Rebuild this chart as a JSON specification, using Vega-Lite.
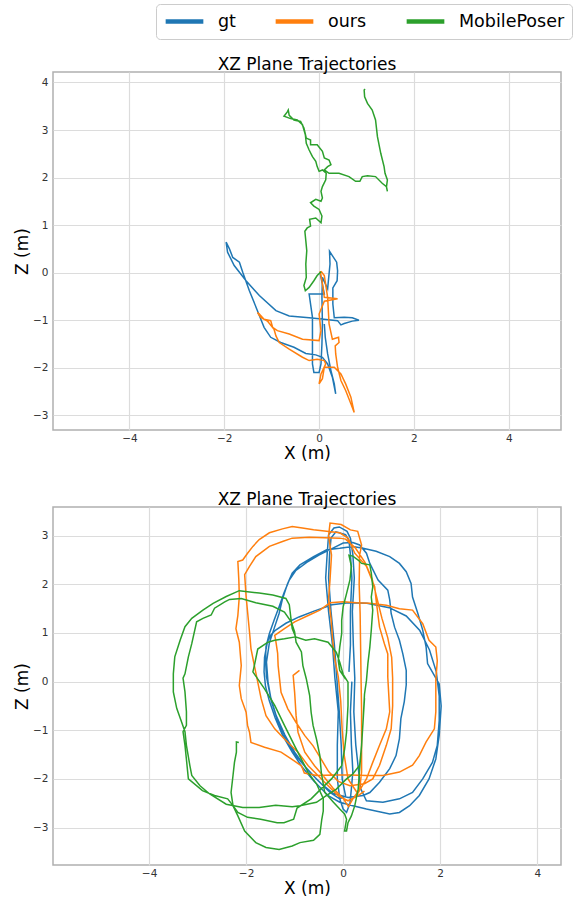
{
"$schema": "https://vega.github.io/schema/vega-lite/v6.json",
"padding": {"left": 12, "top": 3, "right": 2, "bottom": 2},
"datasets": {
"top": [
{"s":"gt","g":1,"x":0.02,"z":0.0},{"s":"gt","g":1,"x":0.11,"z":-0.45},{"s":"gt","g":1,"x":-0.21,"z":-0.45},{"s":"gt","g":1,"x":-0.14,"z":-0.94},{"s":"gt","g":1,"x":-0.14,"z":-1.43},{"s":"gt","g":1,"x":-0.14,"z":-1.92},{"s":"gt","g":1,"x":-0.11,"z":-2.1},{"s":"gt","g":1,"x":0,"z":-2.1},{"s":"gt","g":1,"x":0.04,"z":-1.92},{"s":"gt","g":1,"x":0.06,"z":-1.5},{"s":"gt","g":1,"x":0.07,"z":-1.08},{"s":"gt","g":1,"x":0.06,"z":-0.52},{"s":"gt","g":1,"x":0.07,"z":-0.1},{"s":"gt","g":1,"x":0.18,"z":-0.34},{"s":"gt","g":1,"x":0.23,"z":0.18},{"s":"gt","g":1,"x":0.22,"z":0.45},{"s":"gt","g":1,"x":0.29,"z":0.34},{"s":"gt","g":1,"x":0.37,"z":0.22},{"s":"gt","g":1,"x":0.39,"z":0.04},{"s":"gt","g":1,"x":0.38,"z":-0.17},{"s":"gt","g":1,"x":0.29,"z":-0.32},{"s":"gt","g":1,"x":0.29,"z":-0.66},{"s":"gt","g":1,"x":0.32,"z":-0.95},{"s":"gt","g":1,"x":0.53,"z":-0.94},{"s":"gt","g":1,"x":0.7,"z":-0.95},{"s":"gt","g":1,"x":0.84,"z":-1.0},{"s":"gt","g":1,"x":0.7,"z":-1.02},{"s":"gt","g":1,"x":0.53,"z":-1.07},{"s":"gt","g":1,"x":0.46,"z":-1.1},{"s":"gt","g":1,"x":0.39,"z":-1.01},{"s":"gt","g":1,"x":0,"z":-0.97},{"s":"gt","g":1,"x":-0.21,"z":-0.95},{"s":"gt","g":1,"x":-0.63,"z":-0.91},{"s":"gt","g":1,"x":-0.91,"z":-0.8},{"s":"gt","g":1,"x":-1.26,"z":-0.48},{"s":"gt","g":1,"x":-1.54,"z":-0.17},{"s":"gt","g":1,"x":-1.79,"z":0.15},{"s":"gt","g":1,"x":-1.93,"z":0.43},{"s":"gt","g":1,"x":-1.96,"z":0.64},{"s":"gt","g":1,"x":-1.89,"z":0.5},{"s":"gt","g":1,"x":-1.82,"z":0.32},{"s":"gt","g":1,"x":-1.68,"z":0.22},{"s":"gt","g":1,"x":-1.61,"z":0.01},{"s":"gt","g":1,"x":-1.47,"z":-0.38},{"s":"gt","g":1,"x":-1.3,"z":-0.8},{"s":"gt","g":1,"x":-1.16,"z":-1.15},{"s":"gt","g":1,"x":-1.02,"z":-1.36},{"s":"gt","g":1,"x":-0.81,"z":-1.47},{"s":"gt","g":1,"x":-0.53,"z":-1.57},{"s":"gt","g":1,"x":-0.28,"z":-1.7},{"s":"gt","g":1,"x":-0.07,"z":-1.73},{"s":"gt","g":1,"x":0.07,"z":-1.78},{"s":"gt","g":1,"x":0.18,"z":-1.92},{"s":"gt","g":1,"x":0.28,"z":-2.2},{"s":"gt","g":1,"x":0.35,"z":-2.55},{"s":"gt","g":1,"x":0.32,"z":-2.34},{"s":"gt","g":1,"x":0.25,"z":-2.06},{"s":"gt","g":1,"x":0.18,"z":-1.71},{"s":"gt","g":1,"x":0.13,"z":-1.36},{"s":"gt","g":1,"x":0.11,"z":-1.08},
{"s":"ours","g":1,"x":0.02,"z":0.03},{"s":"ours","g":1,"x":0.06,"z":-0.17},{"s":"ours","g":1,"x":0.11,"z":-0.52},{"s":"ours","g":1,"x":0.39,"z":-0.55},{"s":"ours","g":1,"x":0.11,"z":-0.6},{"s":"ours","g":1,"x":0,"z":-0.87},{"s":"ours","g":1,"x":0.04,"z":-1.22},{"s":"ours","g":1,"x":0,"z":-1.43},{"s":"ours","g":1,"x":-0.35,"z":-1.4},{"s":"ours","g":1,"x":-0.63,"z":-1.29},{"s":"ours","g":1,"x":-0.88,"z":-1.22},{"s":"ours","g":1,"x":-0.98,"z":-1.15},{"s":"ours","g":1,"x":-1.02,"z":-1.01},{"s":"ours","g":1,"x":-1.16,"z":-0.98},{"s":"ours","g":1,"x":-1.26,"z":-0.87},{"s":"ours","g":1,"x":-1.3,"z":-0.84},{"s":"ours","g":1,"x":-1.23,"z":-0.94},{"s":"ours","g":1,"x":-1.09,"z":-1.02},{"s":"ours","g":1,"x":-0.95,"z":-1.19},{"s":"ours","g":1,"x":-0.91,"z":-1.33},{"s":"ours","g":1,"x":-0.84,"z":-1.47},{"s":"ours","g":1,"x":-0.63,"z":-1.61},{"s":"ours","g":1,"x":-0.35,"z":-1.78},{"s":"ours","g":1,"x":-0.21,"z":-1.85},{"s":"ours","g":1,"x":-0.04,"z":-1.82},{"s":"ours","g":1,"x":0.11,"z":-1.85},{"s":"ours","g":1,"x":0.14,"z":-1.92},{"s":"ours","g":1,"x":0.04,"z":-2.13},{"s":"ours","g":1,"x":0,"z":-2.34},{"s":"ours","g":1,"x":0.07,"z":-2.23},{"s":"ours","g":1,"x":0.11,"z":-1.99},{"s":"ours","g":1,"x":0.32,"z":-1.99},{"s":"ours","g":1,"x":0.46,"z":-2.13},{"s":"ours","g":1,"x":0.56,"z":-2.34},{"s":"ours","g":1,"x":0.67,"z":-2.62},{"s":"ours","g":1,"x":0.74,"z":-2.94},{"s":"ours","g":1,"x":0.67,"z":-2.76},{"s":"ours","g":1,"x":0.56,"z":-2.48},{"s":"ours","g":1,"x":0.46,"z":-2.27},{"s":"ours","g":1,"x":0.39,"z":-1.99},{"s":"ours","g":1,"x":0.35,"z":-1.71},{"s":"ours","g":1,"x":0.34,"z":-1.54},{"s":"ours","g":1,"x":0.42,"z":-1.47},{"s":"ours","g":1,"x":0.41,"z":-1.36},{"s":"ours","g":1,"x":0.28,"z":-1.4},{"s":"ours","g":1,"x":0.21,"z":-1.08},{"s":"ours","g":1,"x":0.18,"z":-0.52},{"s":"ours","g":1,"x":0.11,"z":-0.06},{"s":"ours","g":1,"x":0.04,"z":0.03},
{"s":"MobilePoser","g":1,"x":0.04,"z":0.02},{"s":"MobilePoser","g":1,"x":-0.04,"z":-0.06},{"s":"MobilePoser","g":1,"x":-0.11,"z":-0.17},{"s":"MobilePoser","g":1,"x":-0.21,"z":-0.31},{"s":"MobilePoser","g":1,"x":-0.29,"z":-0.38},{"s":"MobilePoser","g":1,"x":-0.32,"z":-0.27},{"s":"MobilePoser","g":1,"x":-0.27,"z":-0.1},{"s":"MobilePoser","g":1,"x":-0.28,"z":0.18},{"s":"MobilePoser","g":1,"x":-0.26,"z":0.46},{"s":"MobilePoser","g":1,"x":-0.28,"z":0.67},{"s":"MobilePoser","g":1,"x":-0.3,"z":0.87},{"s":"MobilePoser","g":1,"x":-0.25,"z":0.94},{"s":"MobilePoser","g":1,"x":-0.18,"z":0.98},{"s":"MobilePoser","g":1,"x":-0.2,"z":1.12},{"s":"MobilePoser","g":1,"x":-0.07,"z":1.15},{"s":"MobilePoser","g":1,"x":0.04,"z":1.05},{"s":"MobilePoser","g":1,"x":0.06,"z":1.19},{"s":"MobilePoser","g":1,"x":0,"z":1.33},{"s":"MobilePoser","g":1,"x":-0.11,"z":1.4},{"s":"MobilePoser","g":1,"x":-0.18,"z":1.47},{"s":"MobilePoser","g":1,"x":-0.07,"z":1.54},{"s":"MobilePoser","g":1,"x":0.04,"z":1.5},{"s":"MobilePoser","g":1,"x":0.07,"z":1.57},{"s":"MobilePoser","g":1,"x":0.04,"z":1.71},{"s":"MobilePoser","g":1,"x":0.07,"z":1.81},{"s":"MobilePoser","g":1,"x":0.14,"z":1.95},{"s":"MobilePoser","g":1,"x":0.15,"z":2.09},{"s":"MobilePoser","g":1,"x":0.07,"z":2.16},{"s":"MobilePoser","g":1,"x":0,"z":2.13},{"s":"MobilePoser","g":1,"x":-0.04,"z":2.23},{"s":"MobilePoser","g":1,"x":-0.07,"z":2.34},{"s":"MobilePoser","g":1,"x":-0.14,"z":2.44},{"s":"MobilePoser","g":1,"x":-0.21,"z":2.58},{"s":"MobilePoser","g":1,"x":-0.27,"z":2.72},{"s":"MobilePoser","g":1,"x":-0.29,"z":2.9},{"s":"MobilePoser","g":1,"x":-0.35,"z":3.11},{"s":"MobilePoser","g":1,"x":-0.46,"z":3.21},{"s":"MobilePoser","g":1,"x":-0.6,"z":3.24},{"s":"MobilePoser","g":1,"x":-0.74,"z":3.29},{"s":"MobilePoser","g":1,"x":-0.67,"z":3.38},{"s":"MobilePoser","g":1,"x":-0.65,"z":3.42},{"s":"MobilePoser","g":1,"x":-0.63,"z":3.31},{"s":"MobilePoser","g":1,"x":-0.53,"z":3.21},{"s":"MobilePoser","g":1,"x":-0.39,"z":3.18},{"s":"MobilePoser","g":1,"x":-0.32,"z":3.04},{"s":"MobilePoser","g":1,"x":-0.27,"z":2.83},{"s":"MobilePoser","g":1,"x":-0.18,"z":2.79},{"s":"MobilePoser","g":1,"x":-0.18,"z":2.69},{"s":"MobilePoser","g":1,"x":-0.04,"z":2.69},{"s":"MobilePoser","g":1,"x":0.07,"z":2.55},{"s":"MobilePoser","g":1,"x":0.11,"z":2.41},{"s":"MobilePoser","g":1,"x":0.21,"z":2.37},{"s":"MobilePoser","g":1,"x":0.25,"z":2.27},{"s":"MobilePoser","g":1,"x":0.18,"z":2.23},{"s":"MobilePoser","g":1,"x":0.11,"z":2.16},{"s":"MobilePoser","g":1,"x":0.21,"z":2.09},{"s":"MobilePoser","g":1,"x":0.42,"z":2.09},{"s":"MobilePoser","g":1,"x":0.63,"z":2.02},{"s":"MobilePoser","g":1,"x":0.77,"z":1.92},{"s":"MobilePoser","g":1,"x":0.86,"z":1.92},{"s":"MobilePoser","g":1,"x":0.91,"z":2.02},{"s":"MobilePoser","g":1,"x":1.02,"z":2.04},{"s":"MobilePoser","g":1,"x":1.19,"z":2.02},{"s":"MobilePoser","g":1,"x":1.33,"z":1.88},{"s":"MobilePoser","g":1,"x":1.42,"z":1.81},{"s":"MobilePoser","g":1,"x":1.44,"z":1.71},{"s":"MobilePoser","g":1,"x":1.42,"z":1.8},{"s":"MobilePoser","g":1,"x":1.44,"z":1.95},{"s":"MobilePoser","g":1,"x":1.39,"z":2.09},{"s":"MobilePoser","g":1,"x":1.37,"z":2.23},{"s":"MobilePoser","g":1,"x":1.3,"z":2.51},{"s":"MobilePoser","g":1,"x":1.23,"z":2.86},{"s":"MobilePoser","g":1,"x":1.19,"z":3.21},{"s":"MobilePoser","g":1,"x":1.12,"z":3.42},{"s":"MobilePoser","g":1,"x":1.02,"z":3.56},{"s":"MobilePoser","g":1,"x":0.96,"z":3.7},{"s":"MobilePoser","g":1,"x":0.95,"z":3.84},{"s":"MobilePoser","g":1,"x":0.97,"z":3.86}
],
"bottom": [
{"s":"gt","g":1,"x":0.18,"z":0.0},{"s":"gt","g":1,"x":0.15,"z":-0.62},{"s":"gt","g":1,"x":0.17,"z":-1.3},{"s":"gt","g":1,"x":0.2,"z":-1.85},{"s":"gt","g":1,"x":0.17,"z":-2.2},{"s":"gt","g":1,"x":0.14,"z":-2.5},{"s":"gt","g":1,"x":0.07,"z":-2.69},{"s":"gt","g":1,"x":0.0,"z":-2.62},{"s":"gt","g":1,"x":-0.07,"z":-2.41},{"s":"gt","g":1,"x":-0.12,"z":-2.0},{"s":"gt","g":1,"x":-0.12,"z":-1.3},{"s":"gt","g":1,"x":-0.1,"z":-0.62},{"s":"gt","g":1,"x":-0.17,"z":0.07},{"s":"gt","g":1,"x":-0.22,"z":0.75},{"s":"gt","g":1,"x":-0.3,"z":1.44},{"s":"gt","g":1,"x":-0.36,"z":2.13},{"s":"gt","g":1,"x":-0.33,"z":2.61},{"s":"gt","g":1,"x":-0.3,"z":3.02},{"s":"gt","g":1,"x":-0.19,"z":3.16},{"s":"gt","g":1,"x":-0.08,"z":3.18},{"s":"gt","g":1,"x":0.08,"z":3.09},{"s":"gt","g":1,"x":0.15,"z":2.95},{"s":"gt","g":1,"x":0.2,"z":2.61},{"s":"gt","g":1,"x":0.23,"z":2.13},{"s":"gt","g":1,"x":0.19,"z":1.44},{"s":"gt","g":1,"x":0.21,"z":0.75},{"s":"gt","g":1,"x":0.24,"z":0.07},{"s":"gt","g":1,"x":0.22,"z":-0.62},{"s":"gt","g":1,"x":0.26,"z":-1.3},{"s":"gt","g":1,"x":0.32,"z":-1.85},{"s":"gt","g":1,"x":0.36,"z":-2.2},{"s":"gt","g":1,"x":0.48,"z":-2.45},{"s":"gt","g":1,"x":0.82,"z":-2.48},{"s":"gt","g":1,"x":1.16,"z":-2.41},{"s":"gt","g":1,"x":1.43,"z":-2.28},{"s":"gt","g":1,"x":1.64,"z":-2.0},{"s":"gt","g":1,"x":1.84,"z":-1.66},{"s":"gt","g":1,"x":1.94,"z":-1.31},{"s":"gt","g":1,"x":1.98,"z":-0.8},{"s":"gt","g":1,"x":1.98,"z":-0.3},{"s":"gt","g":1,"x":1.92,"z":0.2},{"s":"gt","g":1,"x":1.78,"z":0.65},{"s":"gt","g":1,"x":1.58,"z":1.05},{"s":"gt","g":1,"x":1.3,"z":1.35},{"s":"gt","g":1,"x":0.95,"z":1.52},{"s":"gt","g":1,"x":0.49,"z":1.61},{"s":"gt","g":1,"x":0.11,"z":1.62},{"s":"gt","g":1,"x":-0.23,"z":1.58},{"s":"gt","g":1,"x":-0.6,"z":1.45},{"s":"gt","g":1,"x":-0.91,"z":1.33},{"s":"gt","g":1,"x":-1.18,"z":1.2},{"s":"gt","g":1,"x":-1.39,"z":1.06},{"s":"gt","g":1,"x":-1.49,"z":0.96},{"s":"gt","g":1,"x":-1.56,"z":0.82},{"s":"gt","g":1,"x":-1.62,"z":0.5},{"s":"gt","g":1,"x":-1.63,"z":0.2},{"s":"gt","g":1,"x":-1.6,"z":-0.1},{"s":"gt","g":1,"x":-1.52,"z":-0.4},{"s":"gt","g":1,"x":-1.4,"z":-0.75},{"s":"gt","g":1,"x":-1.25,"z":-1.1},{"s":"gt","g":1,"x":-1.05,"z":-1.45},{"s":"gt","g":1,"x":-0.85,"z":-1.75},{"s":"gt","g":1,"x":-0.6,"z":-2.05},{"s":"gt","g":1,"x":-0.3,"z":-2.35},{"s":"gt","g":1,"x":-0.07,"z":-2.48},{"s":"gt","g":1,"x":0.2,"z":-2.55},{"s":"gt","g":1,"x":0.48,"z":-2.62},{"s":"gt","g":1,"x":0.96,"z":-2.72},{"s":"gt","g":1,"x":1.16,"z":-2.69},{"s":"gt","g":1,"x":1.37,"z":-2.55},{"s":"gt","g":1,"x":1.57,"z":-2.34},{"s":"gt","g":1,"x":1.77,"z":-2.0},{"s":"gt","g":1,"x":1.91,"z":-1.59},{"s":"gt","g":1,"x":1.98,"z":-1.1},{"s":"gt","g":1,"x":2.02,"z":-0.5},{"s":"gt","g":1,"x":1.98,"z":-0.05},{"s":"gt","g":1,"x":1.74,"z":0.37},{"s":"gt","g":1,"x":1.71,"z":0.71},{"s":"gt","g":1,"x":1.64,"z":1.06},{"s":"gt","g":1,"x":1.54,"z":1.4},{"s":"gt","g":1,"x":1.43,"z":1.74},{"s":"gt","g":1,"x":1.4,"z":2.02},{"s":"gt","g":1,"x":1.3,"z":2.26},{"s":"gt","g":1,"x":1.16,"z":2.43},{"s":"gt","g":1,"x":0.96,"z":2.57},{"s":"gt","g":1,"x":0.68,"z":2.68},{"s":"gt","g":1,"x":0.41,"z":2.74},{"s":"gt","g":1,"x":0.2,"z":2.78},{"s":"gt","g":1,"x":-0.07,"z":2.74},{"s":"gt","g":1,"x":-0.34,"z":2.71},{"s":"gt","g":1,"x":-0.61,"z":2.57},{"s":"gt","g":1,"x":-0.89,"z":2.4},{"s":"gt","g":1,"x":-1.05,"z":2.23},{"s":"gt","g":1,"x":-1.15,"z":2.0},{"s":"gt","g":1,"x":-1.25,"z":1.7},{"s":"gt","g":1,"x":-1.32,"z":1.4},{"s":"gt","g":1,"x":-1.42,"z":1.1},{"s":"gt","g":1,"x":-1.52,"z":0.8},{"s":"gt","g":1,"x":-1.58,"z":0.4},{"s":"gt","g":1,"x":-1.55,"z":0.0},{"s":"gt","g":1,"x":-1.48,"z":-0.4},{"s":"gt","g":1,"x":-1.35,"z":-0.8},{"s":"gt","g":1,"x":-1.17,"z":-1.2},{"s":"gt","g":1,"x":-0.95,"z":-1.55},{"s":"gt","g":1,"x":-0.7,"z":-1.85},{"s":"gt","g":1,"x":-0.45,"z":-2.1},{"s":"gt","g":1,"x":-0.2,"z":-2.3},{"s":"gt","g":1,"x":0.1,"z":-2.38},{"s":"gt","g":1,"x":0.41,"z":-2.34},{"s":"gt","g":1,"x":0.55,"z":-2.28},{"s":"gt","g":1,"x":0.75,"z":-2.07},{"s":"gt","g":1,"x":0.96,"z":-1.79},{"s":"gt","g":1,"x":1.09,"z":-1.52},{"s":"gt","g":1,"x":1.16,"z":-1.17},{"s":"gt","g":1,"x":1.19,"z":-0.76},{"s":"gt","g":1,"x":1.26,"z":-0.41},{"s":"gt","g":1,"x":1.3,"z":-0.07},{"s":"gt","g":1,"x":1.3,"z":0.23},{"s":"gt","g":1,"x":1.23,"z":0.57},{"s":"gt","g":1,"x":1.16,"z":0.85},{"s":"gt","g":1,"x":1.06,"z":1.12},{"s":"gt","g":1,"x":0.99,"z":1.4},{"s":"gt","g":1,"x":0.96,"z":1.68},{"s":"gt","g":1,"x":0.92,"z":1.88},{"s":"gt","g":1,"x":0.72,"z":2.09},{"s":"gt","g":1,"x":0.55,"z":2.43},{"s":"gt","g":1,"x":0.48,"z":2.64},{"s":"gt","g":1,"x":0.34,"z":2.81},{"s":"gt","g":1,"x":0.2,"z":2.86},{"s":"gt","g":1,"x":0.0,"z":2.85},{"s":"gt","g":1,"x":-0.2,"z":2.75},{"s":"gt","g":1,"x":-0.5,"z":2.6},{"s":"gt","g":1,"x":-0.75,"z":2.45},{"s":"gt","g":1,"x":-0.98,"z":2.28},{"s":"gt","g":1,"x":-1.11,"z":2.09},{"s":"gt","g":1,"x":-1.22,"z":1.82},{"s":"gt","g":1,"x":-1.32,"z":1.54},{"s":"gt","g":1,"x":-1.42,"z":1.27},{"s":"gt","g":1,"x":-1.52,"z":0.99},{"s":"gt","g":1,"x":-1.59,"z":0.72},{"s":"gt","g":1,"x":-1.6,"z":0.44},{"s":"gt","g":1,"x":-1.58,"z":0.1},{"s":"gt","g":1,"x":-1.5,"z":-0.3},{"s":"gt","g":1,"x":-1.38,"z":-0.7},{"s":"gt","g":1,"x":-1.2,"z":-1.1},{"s":"gt","g":1,"x":-1.0,"z":-1.45},{"s":"gt","g":1,"x":-0.78,"z":-1.75},{"s":"gt","g":1,"x":-0.55,"z":-2.0},{"s":"gt","g":1,"x":-0.27,"z":-2.28},{"s":"gt","g":1,"x":-0.07,"z":-2.41},{"s":"gt","g":1,"x":0.05,"z":-2.35},{"s":"gt","g":1,"x":-0.02,"z":-2.0},{"s":"gt","g":1,"x":-0.04,"z":-1.3},{"s":"gt","g":1,"x":-0.08,"z":-0.62},{"s":"gt","g":1,"x":-0.13,"z":0.07},{"s":"gt","g":1,"x":-0.18,"z":0.75},{"s":"gt","g":1,"x":-0.25,"z":1.44},{"s":"gt","g":1,"x":-0.3,"z":2.13},{"s":"gt","g":1,"x":-0.28,"z":2.61},{"s":"gt","g":1,"x":-0.25,"z":2.95},{"s":"gt","g":1,"x":-0.15,"z":3.08},{"s":"gt","g":1,"x":0.05,"z":3.02},{"s":"gt","g":1,"x":0.12,"z":2.9},{"s":"gt","g":1,"x":0.15,"z":2.61},{"s":"gt","g":1,"x":0.18,"z":2.13},{"s":"gt","g":1,"x":0.15,"z":1.44},{"s":"gt","g":1,"x":0.15,"z":0.75},{"s":"gt","g":1,"x":0.12,"z":0.2},
{"s":"ours","g":1,"x":-0.9,"z":0.23},{"s":"ours","g":1,"x":-1.03,"z":0.13},{"s":"ours","g":1,"x":-1.0,"z":-0.22},{"s":"ours","g":1,"x":-0.97,"z":-0.7},{"s":"ours","g":1,"x":-0.93,"z":-1.04},{"s":"ours","g":1,"x":-0.79,"z":-1.45},{"s":"ours","g":1,"x":-0.59,"z":-1.73},{"s":"ours","g":1,"x":-0.4,"z":-1.95},{"s":"ours","g":1,"x":-0.2,"z":-2.2},{"s":"ours","g":1,"x":0.0,"z":-2.4},{"s":"ours","g":1,"x":0.11,"z":-2.57},{"s":"ours","g":1,"x":0.2,"z":-2.41},{"s":"ours","g":1,"x":0.34,"z":-2.21},{"s":"ours","g":1,"x":0.38,"z":-1.86},{"s":"ours","g":1,"x":0.38,"z":-1.31},{"s":"ours","g":1,"x":0.38,"z":-0.62},{"s":"ours","g":1,"x":0.37,"z":0.0},{"s":"ours","g":1,"x":0.36,"z":0.7},{"s":"ours","g":1,"x":0.35,"z":1.4},{"s":"ours","g":1,"x":0.33,"z":2.0},{"s":"ours","g":1,"x":0.34,"z":2.6},{"s":"ours","g":1,"x":0.38,"z":2.81},{"s":"ours","g":1,"x":0.3,"z":3.09},{"s":"ours","g":1,"x":0.15,"z":3.12},{"s":"ours","g":1,"x":-0.04,"z":3.23},{"s":"ours","g":1,"x":-0.27,"z":3.26},{"s":"ours","g":1,"x":-0.3,"z":3.0},{"s":"ours","g":1,"x":-0.24,"z":2.6},{"s":"ours","g":1,"x":-0.27,"z":2.1},{"s":"ours","g":1,"x":-0.3,"z":1.7},{"s":"ours","g":1,"x":-0.25,"z":1.3},{"s":"ours","g":1,"x":-0.22,"z":0.9},{"s":"ours","g":1,"x":-0.18,"z":0.5},{"s":"ours","g":1,"x":-0.1,"z":0.1},{"s":"ours","g":1,"x":-0.05,"z":-0.4},{"s":"ours","g":1,"x":-0.02,"z":-1.0},{"s":"ours","g":1,"x":0.02,"z":-1.5},{"s":"ours","g":1,"x":0.1,"z":-2.0},{"s":"ours","g":1,"x":0.3,"z":-2.3},{"s":"ours","g":1,"x":0.48,"z":-2.0},{"s":"ours","g":1,"x":0.61,"z":-1.66},{"s":"ours","g":1,"x":0.75,"z":-1.31},{"s":"ours","g":1,"x":0.89,"z":-0.97},{"s":"ours","g":1,"x":0.96,"z":-0.62},{"s":"ours","g":1,"x":0.92,"z":0.09},{"s":"ours","g":1,"x":0.92,"z":0.57},{"s":"ours","g":1,"x":0.85,"z":0.78},{"s":"ours","g":1,"x":0.75,"z":1.12},{"s":"ours","g":1,"x":0.68,"z":1.67},{"s":"ours","g":1,"x":0.65,"z":1.95},{"s":"ours","g":1,"x":0.48,"z":2.37},{"s":"ours","g":1,"x":0.24,"z":2.64},{"s":"ours","g":1,"x":0.1,"z":2.95},{"s":"ours","g":1,"x":-0.07,"z":3.06},{"s":"ours","g":1,"x":-0.34,"z":3.09},{"s":"ours","g":1,"x":-0.61,"z":3.12},{"s":"ours","g":1,"x":-0.84,"z":3.16},{"s":"ours","g":1,"x":-1.05,"z":3.19},{"s":"ours","g":1,"x":-1.25,"z":3.14},{"s":"ours","g":1,"x":-1.52,"z":3.06},{"s":"ours","g":1,"x":-1.73,"z":2.92},{"s":"ours","g":1,"x":-1.86,"z":2.78},{"s":"ours","g":1,"x":-1.97,"z":2.64},{"s":"ours","g":1,"x":-2.07,"z":2.5},{"s":"ours","g":1,"x":-2.17,"z":2.47},{"s":"ours","g":1,"x":-2.15,"z":2.09},{"s":"ours","g":1,"x":-2.14,"z":1.75},{"s":"ours","g":1,"x":-2.17,"z":1.36},{"s":"ours","g":1,"x":-2.21,"z":1.09},{"s":"ours","g":1,"x":-2.14,"z":0.81},{"s":"ours","g":1,"x":-2.1,"z":0.33},{"s":"ours","g":1,"x":-2.14,"z":-0.08},{"s":"ours","g":1,"x":-2.1,"z":-0.35},{"s":"ours","g":1,"x":-2.0,"z":-0.63},{"s":"ours","g":1,"x":-1.97,"z":-0.9},{"s":"ours","g":1,"x":-1.93,"z":-1.04},{"s":"ours","g":1,"x":-1.9,"z":-1.25},{"s":"ours","g":1,"x":-1.62,"z":-1.35},{"s":"ours","g":1,"x":-1.28,"z":-1.45},{"s":"ours","g":1,"x":-1.07,"z":-1.59},{"s":"ours","g":1,"x":-0.86,"z":-1.73},{"s":"ours","g":1,"x":-0.8,"z":-1.88},{"s":"ours","g":1,"x":-0.55,"z":-1.93},{"s":"ours","g":1,"x":-0.2,"z":-1.92},{"s":"ours","g":1,"x":0.14,"z":-1.92},{"s":"ours","g":1,"x":0.48,"z":-1.93},{"s":"ours","g":1,"x":0.82,"z":-1.93},{"s":"ours","g":1,"x":1.16,"z":-1.86},{"s":"ours","g":1,"x":1.43,"z":-1.72},{"s":"ours","g":1,"x":1.57,"z":-1.52},{"s":"ours","g":1,"x":1.71,"z":-1.24},{"s":"ours","g":1,"x":1.88,"z":-0.97},{"s":"ours","g":1,"x":1.91,"z":-0.62},{"s":"ours","g":1,"x":1.91,"z":0.02},{"s":"ours","g":1,"x":1.94,"z":0.43},{"s":"ours","g":1,"x":1.91,"z":0.71},{"s":"ours","g":1,"x":1.77,"z":0.85},{"s":"ours","g":1,"x":1.64,"z":1.19},{"s":"ours","g":1,"x":1.43,"z":1.47},{"s":"ours","g":1,"x":1.16,"z":1.5},{"s":"ours","g":1,"x":0.89,"z":1.57},{"s":"ours","g":1,"x":0.55,"z":1.61},{"s":"ours","g":1,"x":0.27,"z":1.62},{"s":"ours","g":1,"x":0,"z":1.64},{"s":"ours","g":1,"x":-0.27,"z":1.62},{"s":"ours","g":1,"x":-0.48,"z":1.47},{"s":"ours","g":1,"x":-0.72,"z":1.36},{"s":"ours","g":1,"x":-1.0,"z":1.23},{"s":"ours","g":1,"x":-1.21,"z":1.09},{"s":"ours","g":1,"x":-1.41,"z":0.95},{"s":"ours","g":1,"x":-1.39,"z":0.85},{"s":"ours","g":1,"x":-1.35,"z":0.58},{"s":"ours","g":1,"x":-1.34,"z":0.33},{"s":"ours","g":1,"x":-1.28,"z":-0.22},{"s":"ours","g":1,"x":-1.14,"z":-0.56},{"s":"ours","g":1,"x":-0.97,"z":-0.84},{"s":"ours","g":1,"x":-0.79,"z":-1.11},{"s":"ours","g":1,"x":-0.62,"z":-1.32},{"s":"ours","g":1,"x":-0.45,"z":-1.6},{"s":"ours","g":1,"x":-0.3,"z":-1.85},{"s":"ours","g":1,"x":-0.1,"z":-2.05},{"s":"ours","g":1,"x":0.14,"z":-2.14},{"s":"ours","g":1,"x":0.44,"z":-2.1},{"s":"ours","g":1,"x":0.61,"z":-2.0},{"s":"ours","g":1,"x":0.75,"z":-1.72},{"s":"ours","g":1,"x":0.89,"z":-1.31},{"s":"ours","g":1,"x":0.99,"z":-0.97},{"s":"ours","g":1,"x":1.02,"z":-0.5},{"s":"ours","g":1,"x":1.02,"z":0.07},{"s":"ours","g":1,"x":1.0,"z":0.5},{"s":"ours","g":1,"x":0.92,"z":0.9},{"s":"ours","g":1,"x":0.8,"z":1.3},{"s":"ours","g":1,"x":0.7,"z":1.7},{"s":"ours","g":1,"x":0.6,"z":2.1},{"s":"ours","g":1,"x":0.45,"z":2.45},{"s":"ours","g":1,"x":0.25,"z":2.75},{"s":"ours","g":1,"x":0.05,"z":2.93},{"s":"ours","g":1,"x":-0.07,"z":2.95},{"s":"ours","g":1,"x":-0.7,"z":2.97},{"s":"ours","g":1,"x":-1.05,"z":2.95},{"s":"ours","g":1,"x":-1.25,"z":2.88},{"s":"ours","g":1,"x":-1.52,"z":2.78},{"s":"ours","g":1,"x":-1.8,"z":2.57},{"s":"ours","g":1,"x":-1.93,"z":2.37},{"s":"ours","g":1,"x":-2.03,"z":2.2},{"s":"ours","g":1,"x":-2.0,"z":1.75},{"s":"ours","g":1,"x":-1.93,"z":1.02},{"s":"ours","g":1,"x":-1.9,"z":0.68},{"s":"ours","g":1,"x":-1.83,"z":0.33},{"s":"ours","g":1,"x":-1.76,"z":-0.01},{"s":"ours","g":1,"x":-1.69,"z":-0.35},{"s":"ours","g":1,"x":-1.59,"z":-0.7},{"s":"ours","g":1,"x":-1.41,"z":-0.97},{"s":"ours","g":1,"x":-1.21,"z":-1.18},{"s":"ours","g":1,"x":-0.93,"z":-1.45},{"s":"ours","g":1,"x":-0.72,"z":-1.73},{"s":"ours","g":1,"x":-0.52,"z":-1.93},{"s":"ours","g":1,"x":-0.31,"z":-2.14},{"s":"ours","g":1,"x":-0.1,"z":-2.35},{"s":"ours","g":1,"x":0.1,"z":-2.45},{"s":"ours","g":1,"x":0.3,"z":-2.35},{"s":"ours","g":1,"x":0.44,"z":-2.25},
{"s":"MobilePoser","g":1,"x":0.05,"z":0.05},{"s":"MobilePoser","g":1,"x":-0.07,"z":0.23},{"s":"MobilePoser","g":1,"x":-0.1,"z":0.43},{"s":"MobilePoser","g":1,"x":-0.07,"z":0.71},{"s":"MobilePoser","g":1,"x":-0.03,"z":0.99},{"s":"MobilePoser","g":1,"x":-0.03,"z":1.26},{"s":"MobilePoser","g":1,"x":0,"z":1.54},{"s":"MobilePoser","g":1,"x":0.07,"z":1.81},{"s":"MobilePoser","g":1,"x":0.14,"z":2.09},{"s":"MobilePoser","g":1,"x":0.17,"z":2.37},{"s":"MobilePoser","g":1,"x":0.12,"z":2.6},{"s":"MobilePoser","g":1,"x":0.2,"z":2.58},{"s":"MobilePoser","g":1,"x":0.31,"z":2.5},{"s":"MobilePoser","g":1,"x":0.38,"z":2.43},{"s":"MobilePoser","g":1,"x":0.55,"z":2.4},{"s":"MobilePoser","g":1,"x":0.58,"z":2.23},{"s":"MobilePoser","g":1,"x":0.61,"z":1.95},{"s":"MobilePoser","g":1,"x":0.58,"z":1.74},{"s":"MobilePoser","g":1,"x":0.61,"z":1.47},{"s":"MobilePoser","g":1,"x":0.58,"z":1.06},{"s":"MobilePoser","g":1,"x":0.55,"z":0.71},{"s":"MobilePoser","g":1,"x":0.51,"z":0.37},{"s":"MobilePoser","g":1,"x":0.48,"z":0.02},{"s":"MobilePoser","g":1,"x":0.44,"z":-0.26},{"s":"MobilePoser","g":1,"x":0.41,"z":-0.83},{"s":"MobilePoser","g":1,"x":0.38,"z":-1.31},{"s":"MobilePoser","g":1,"x":0.34,"z":-1.72},{"s":"MobilePoser","g":1,"x":0.2,"z":-1.9},{"s":"MobilePoser","g":1,"x":0.07,"z":-2.0},{"s":"MobilePoser","g":1,"x":-0.14,"z":-2.21},{"s":"MobilePoser","g":1,"x":-0.34,"z":-2.34},{"s":"MobilePoser","g":1,"x":-0.55,"z":-2.48},{"s":"MobilePoser","g":1,"x":-0.89,"z":-2.55},{"s":"MobilePoser","g":1,"x":-1.05,"z":-2.57},{"s":"MobilePoser","g":1,"x":-1.39,"z":-2.54},{"s":"MobilePoser","g":1,"x":-1.73,"z":-2.59},{"s":"MobilePoser","g":1,"x":-2.07,"z":-2.59},{"s":"MobilePoser","g":1,"x":-2.41,"z":-2.52},{"s":"MobilePoser","g":1,"x":-2.75,"z":-2.31},{"s":"MobilePoser","g":1,"x":-2.95,"z":-2.14},{"s":"MobilePoser","g":1,"x":-3.12,"z":-1.93},{"s":"MobilePoser","g":1,"x":-3.16,"z":-1.72},{"s":"MobilePoser","g":1,"x":-3.23,"z":-1.31},{"s":"MobilePoser","g":1,"x":-3.26,"z":-1.03},{"s":"MobilePoser","g":1,"x":-3.33,"z":-0.83},{"s":"MobilePoser","g":1,"x":-3.43,"z":-0.55},{"s":"MobilePoser","g":1,"x":-3.5,"z":-0.21},{"s":"MobilePoser","g":1,"x":-3.5,"z":0.16},{"s":"MobilePoser","g":1,"x":-3.47,"z":0.51},{"s":"MobilePoser","g":1,"x":-3.36,"z":0.85},{"s":"MobilePoser","g":1,"x":-3.26,"z":1.13},{"s":"MobilePoser","g":1,"x":-3.12,"z":1.3},{"s":"MobilePoser","g":1,"x":-2.89,"z":1.47},{"s":"MobilePoser","g":1,"x":-2.68,"z":1.61},{"s":"MobilePoser","g":1,"x":-2.41,"z":1.75},{"s":"MobilePoser","g":1,"x":-2.14,"z":1.87},{"s":"MobilePoser","g":1,"x":-1.73,"z":1.82},{"s":"MobilePoser","g":1,"x":-1.45,"z":1.78},{"s":"MobilePoser","g":1,"x":-1.18,"z":1.71},{"s":"MobilePoser","g":1,"x":-1.11,"z":1.58},{"s":"MobilePoser","g":1,"x":-1.08,"z":1.33},{"s":"MobilePoser","g":1,"x":-1.05,"z":1.09},{"s":"MobilePoser","g":1,"x":-0.98,"z":0.92},{"s":"MobilePoser","g":1,"x":-0.77,"z":0.85},{"s":"MobilePoser","g":1,"x":-0.59,"z":0.88},{"s":"MobilePoser","g":1,"x":-0.31,"z":0.81},{"s":"MobilePoser","g":1,"x":-0.14,"z":0.6},{"s":"MobilePoser","g":1,"x":-0.07,"z":0.4},{"s":"MobilePoser","g":1,"x":0.0,"z":0.15},{"s":"MobilePoser","g":1,"x":0.1,"z":-0.01},{"s":"MobilePoser","g":1,"x":0.1,"z":-0.22},{"s":"MobilePoser","g":1,"x":0.1,"z":-0.49},{"s":"MobilePoser","g":1,"x":0.07,"z":-1.04},{"s":"MobilePoser","g":1,"x":0.03,"z":-1.39},{"s":"MobilePoser","g":1,"x":-0.03,"z":-1.73},{"s":"MobilePoser","g":1,"x":-0.24,"z":-2.0},{"s":"MobilePoser","g":1,"x":-0.45,"z":-2.2},{"s":"MobilePoser","g":1,"x":-0.66,"z":-2.41},{"s":"MobilePoser","g":1,"x":-0.95,"z":-2.6},{"s":"MobilePoser","g":1,"x":-1.02,"z":-2.83},{"s":"MobilePoser","g":1,"x":-1.22,"z":-2.9},{"s":"MobilePoser","g":1,"x":-1.36,"z":-2.9},{"s":"MobilePoser","g":1,"x":-1.7,"z":-2.83},{"s":"MobilePoser","g":1,"x":-1.97,"z":-2.79},{"s":"MobilePoser","g":1,"x":-2.17,"z":-2.69},{"s":"MobilePoser","g":1,"x":-2.27,"z":-2.55},{"s":"MobilePoser","g":1,"x":-2.38,"z":-2.41},{"s":"MobilePoser","g":1,"x":-2.65,"z":-2.34},{"s":"MobilePoser","g":1,"x":-2.9,"z":-2.24},{"s":"MobilePoser","g":1,"x":-3.19,"z":-2.0},{"s":"MobilePoser","g":1,"x":-3.23,"z":-1.6},{"s":"MobilePoser","g":1,"x":-3.26,"z":-1.31},{"s":"MobilePoser","g":1,"x":-3.3,"z":-1.03},{"s":"MobilePoser","g":1,"x":-3.23,"z":-0.9},{"s":"MobilePoser","g":1,"x":-3.23,"z":-0.62},{"s":"MobilePoser","g":1,"x":-3.26,"z":-0.21},{"s":"MobilePoser","g":1,"x":-3.3,"z":0.07},{"s":"MobilePoser","g":1,"x":-3.26,"z":0.16},{"s":"MobilePoser","g":1,"x":-3.19,"z":0.51},{"s":"MobilePoser","g":1,"x":-3.12,"z":0.78},{"s":"MobilePoser","g":1,"x":-3.02,"z":1.23},{"s":"MobilePoser","g":1,"x":-2.89,"z":1.3},{"s":"MobilePoser","g":1,"x":-2.72,"z":1.37},{"s":"MobilePoser","g":1,"x":-2.65,"z":1.51},{"s":"MobilePoser","g":1,"x":-2.44,"z":1.64},{"s":"MobilePoser","g":1,"x":-2.34,"z":1.69},{"s":"MobilePoser","g":1,"x":-2.1,"z":1.71},{"s":"MobilePoser","g":1,"x":-1.8,"z":1.62},{"s":"MobilePoser","g":1,"x":-1.45,"z":1.55},{"s":"MobilePoser","g":1,"x":-1.21,"z":1.43},{"s":"MobilePoser","g":1,"x":-1.07,"z":1.23},{"s":"MobilePoser","g":1,"x":-1.0,"z":1.02},{"s":"MobilePoser","g":1,"x":-0.97,"z":0.81},{"s":"MobilePoser","g":1,"x":-0.86,"z":0.61},{"s":"MobilePoser","g":1,"x":-0.83,"z":0.33},{"s":"MobilePoser","g":1,"x":-0.76,"z":0.06},{"s":"MobilePoser","g":1,"x":-0.69,"z":-0.29},{"s":"MobilePoser","g":1,"x":-0.66,"z":-0.63},{"s":"MobilePoser","g":1,"x":-0.62,"z":-0.9},{"s":"MobilePoser","g":1,"x":-0.55,"z":-1.18},{"s":"MobilePoser","g":1,"x":-0.48,"z":-1.52},{"s":"MobilePoser","g":1,"x":-0.45,"z":-1.87},{"s":"MobilePoser","g":1,"x":-0.38,"z":-2.28},{"s":"MobilePoser","g":1,"x":-0.2,"z":-2.48},{"s":"MobilePoser","g":1,"x":-0.07,"z":-2.62},{"s":"MobilePoser","g":1,"x":0.03,"z":-2.72},{"s":"MobilePoser","g":1,"x":0.07,"z":-2.83},{"s":"MobilePoser","g":1,"x":0.03,"z":-3.07},{"s":"MobilePoser","g":1,"x":0.07,"z":-3.07},{"s":"MobilePoser","g":1,"x":0.1,"z":-2.9},{"s":"MobilePoser","g":1,"x":0.17,"z":-2.76},{"s":"MobilePoser","g":1,"x":0.24,"z":-2.55},{"s":"MobilePoser","g":1,"x":0.31,"z":-2.21},{"s":"MobilePoser","g":1,"x":0.34,"z":-1.79},{"s":"MobilePoser","g":1,"x":0.38,"z":-1.31},{"s":"MobilePoser","g":1,"x":0.41,"z":-0.83},{"s":"MobilePoser","g":1,"x":0.44,"z":-0.34},
{"s":"MobilePoser","g":2,"x":-0.98,"z":0.92},{"s":"MobilePoser","g":2,"x":-1.21,"z":0.88},{"s":"MobilePoser","g":2,"x":-1.41,"z":0.85},{"s":"MobilePoser","g":2,"x":-1.55,"z":0.81},{"s":"MobilePoser","g":2,"x":-1.76,"z":0.67},{"s":"MobilePoser","g":2,"x":-1.83,"z":0.33},{"s":"MobilePoser","g":2,"x":-1.86,"z":0.2},{"s":"MobilePoser","g":2,"x":-1.62,"z":-0.15},{"s":"MobilePoser","g":2,"x":-1.41,"z":-0.49},{"s":"MobilePoser","g":2,"x":-1.21,"z":-0.9},{"s":"MobilePoser","g":2,"x":-1.0,"z":-1.32},{"s":"MobilePoser","g":2,"x":-0.72,"z":-1.87},{"s":"MobilePoser","g":2,"x":-0.55,"z":-2.1},{"s":"MobilePoser","g":2,"x":-0.41,"z":-2.4},{"s":"MobilePoser","g":2,"x":-0.41,"z":-2.66},{"s":"MobilePoser","g":2,"x":-0.44,"z":-2.83},{"s":"MobilePoser","g":2,"x":-0.48,"z":-3.14},{"s":"MobilePoser","g":2,"x":-0.61,"z":-3.26},{"s":"MobilePoser","g":2,"x":-0.89,"z":-3.31},{"s":"MobilePoser","g":2,"x":-1.05,"z":-3.38},{"s":"MobilePoser","g":2,"x":-1.32,"z":-3.45},{"s":"MobilePoser","g":2,"x":-1.59,"z":-3.41},{"s":"MobilePoser","g":2,"x":-1.8,"z":-3.31},{"s":"MobilePoser","g":2,"x":-2.03,"z":-3.07},{"s":"MobilePoser","g":2,"x":-2.17,"z":-2.76},{"s":"MobilePoser","g":2,"x":-2.27,"z":-2.55},{"s":"MobilePoser","g":2,"x":-2.31,"z":-2.28},{"s":"MobilePoser","g":2,"x":-2.27,"z":-1.93},{"s":"MobilePoser","g":2,"x":-2.24,"z":-1.66},{"s":"MobilePoser","g":2,"x":-2.2,"z":-1.45},{"s":"MobilePoser","g":2,"x":-2.2,"z":-1.24},{"s":"MobilePoser","g":2,"x":-2.15,"z":-1.25}
]
},
"config": {
"font": "DejaVu Sans",
"view": {"stroke": "#b0b0b0", "strokeWidth": 1.5},
"axis": {"grid": true, "gridColor": "#dcdcdc", "gridWidth": 1.2, "domain": false, "ticks": false, "labelFont": "DejaVu Sans", "labelFontSize": 10.5, "labelColor": "#333333", "labelPadding": 5, "titleFont": "DejaVu Sans", "titleFontSize": 17, "titleFontWeight": "normal", "titleColor": "#000000"},
"axisX": {"titlePadding": 2, "labelPadding": 3},
"axisY": {"titlePadding": 1},
"title": {"font": "DejaVu Sans", "fontSize": 17, "fontWeight": "normal", "color": "#000000", "offset": -2},
"concat": {"spacing": 27}
},
"vconcat": [
{
"title": "XZ Plane Trajectories",
"width": 508, "height": 358,
"data": {"name": "top"},
"mark": {"type": "line", "strokeWidth": 1.5},
"encoding": {
"x": {"field": "x", "type": "quantitative", "scale": {"domain": [-5.61, 5.10], "nice": false, "zero": false}, "axis": {"values": [-4, -2, 0, 2, 4], "title": "X (m)"}},
"y": {"field": "z", "type": "quantitative", "scale": {"domain": [-3.31, 4.22], "nice": false, "zero": false}, "axis": {"values": [-3, -2, -1, 0, 1, 2, 3, 4], "title": "Z (m)"}},
"color": {"field": "s", "type": "nominal", "scale": {"domain": ["gt", "ours", "MobilePoser"], "range": ["#1f77b4", "#ff7f0e", "#2ca02c"]},
 "legend": {"orient": "none", "legendX": 103, "legendY": -68, "direction": "horizontal", "title": null, "symbolType": "stroke", "symbolSize": 1420, "symbolStrokeWidth": 4.5, "labelFontSize": 17.5, "labelFont": "DejaVu Sans", "labelColor": "#000000", "labelOffset": 12, "columnPadding": 37, "padding": 7, "clipHeight": 21, "strokeColor": "#cccccc", "cornerRadius": 4, "fillColor": "#ffffff"}},
"detail": {"field": "g", "type": "nominal"},
"order": {"value": null}
}
},
{
"title": "XZ Plane Trajectories",
"width": 508, "height": 358,
"data": {"name": "bottom"},
"mark": {"type": "line", "strokeWidth": 1.5},
"encoding": {
"x": {"field": "x", "type": "quantitative", "scale": {"domain": [-5.98, 4.49], "nice": false, "zero": false}, "axis": {"values": [-4, -2, 0, 2, 4], "title": "X (m)"}},
"y": {"field": "z", "type": "quantitative", "scale": {"domain": [-3.77, 3.59], "nice": false, "zero": false}, "axis": {"values": [-3, -2, -1, 0, 1, 2, 3], "title": "Z (m)"}},
"color": {"field": "s", "type": "nominal", "scale": {"domain": ["gt", "ours", "MobilePoser"], "range": ["#1f77b4", "#ff7f0e", "#2ca02c"]}},
"detail": {"field": "g", "type": "nominal"},
"order": {"value": null}
}
}
]
}
